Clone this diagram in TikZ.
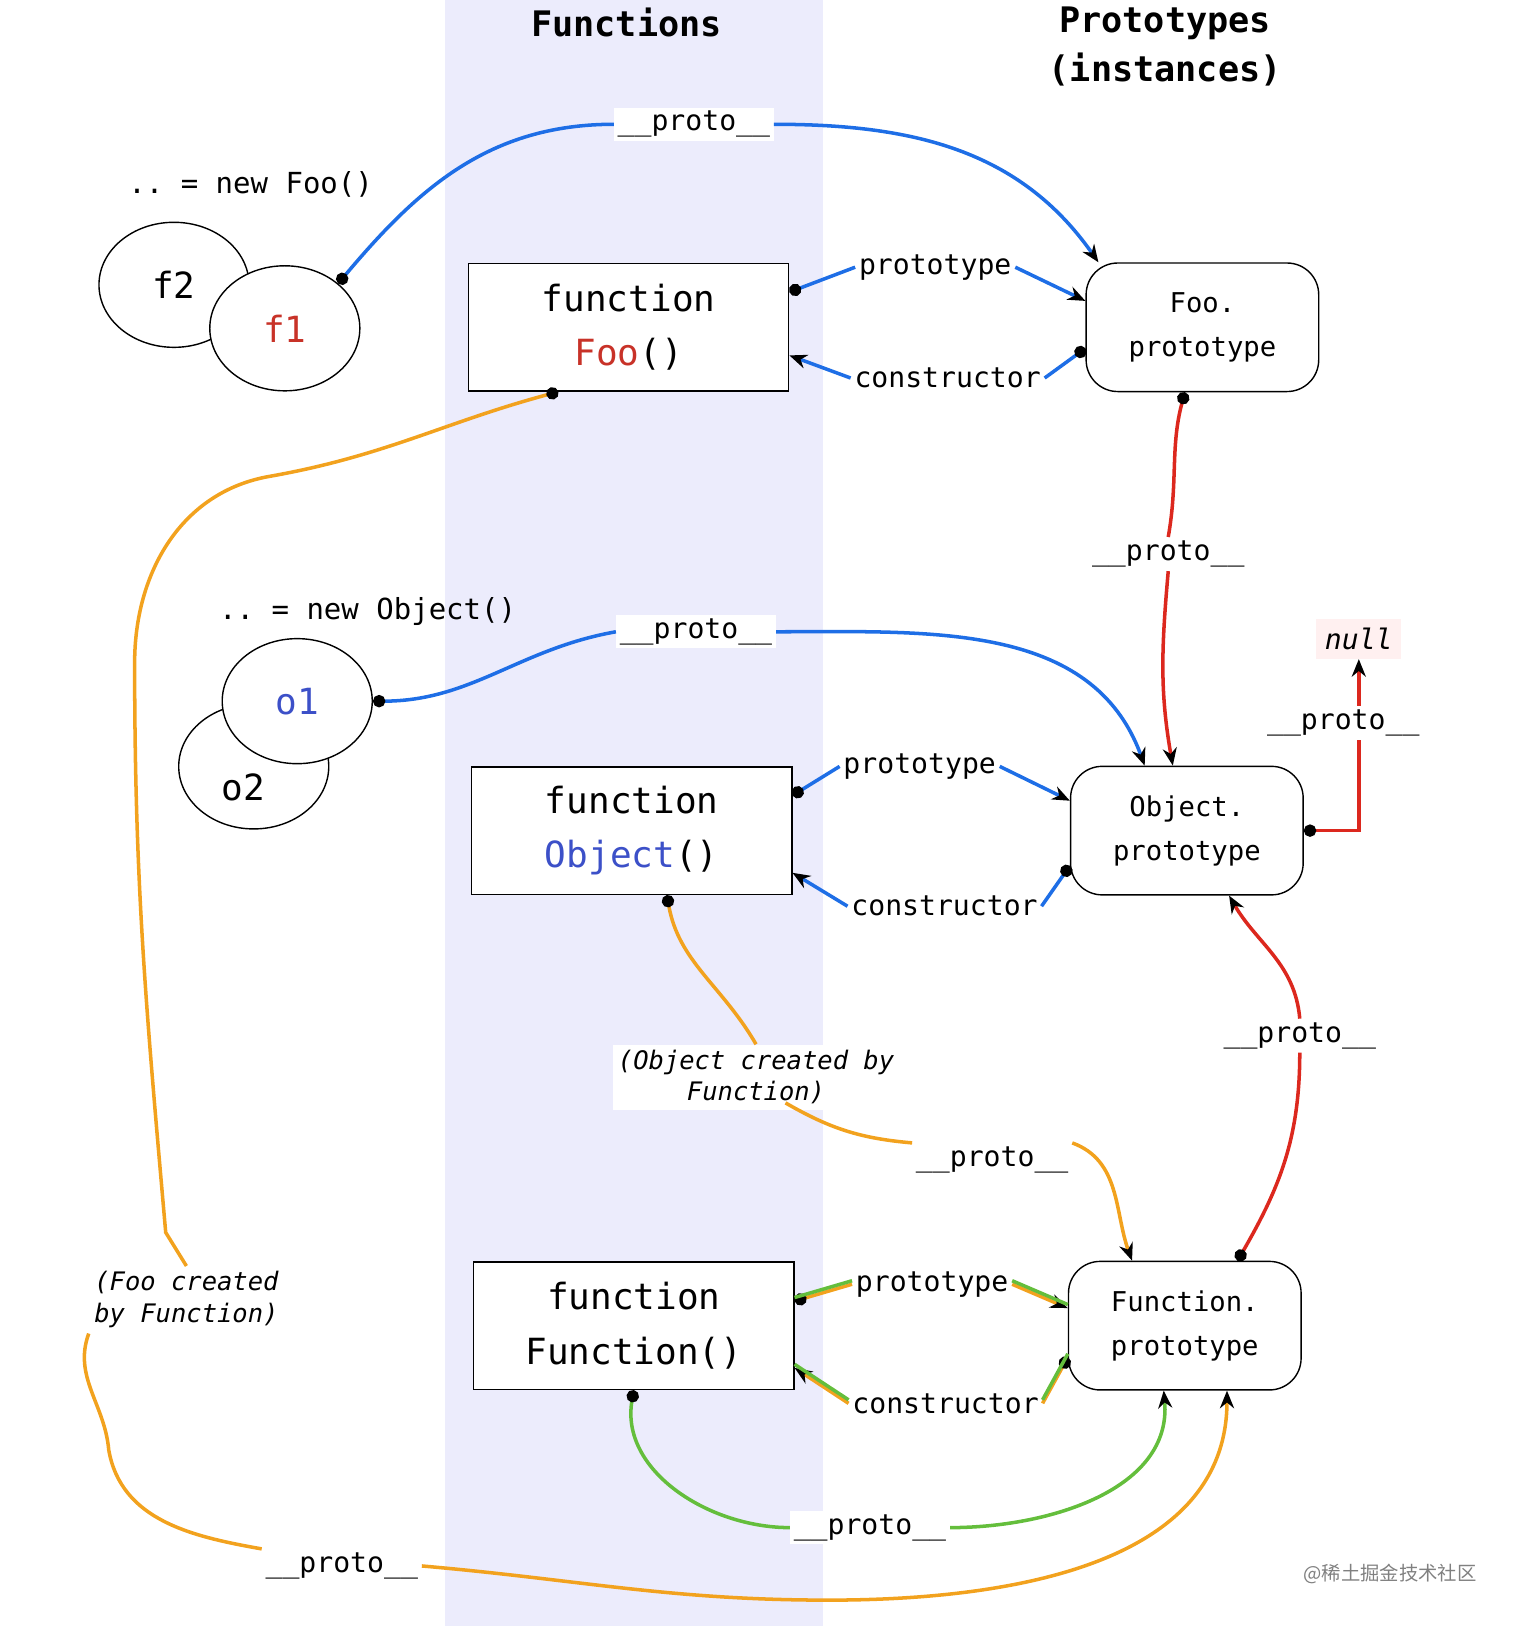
\documentclass[tikz,border=0pt]{standalone}
\usepackage{fontspec}
\setmonofont{DejaVu Sans Mono}
\newfontfamily\cjk{Noto Sans CJK SC}
\usetikzlibrary{arrows.meta,shapes.geometric}
\definecolor{band}{RGB}{236,236,252}
\definecolor{blu}{RGB}{30,110,230}
\definecolor{rd}{RGB}{220,40,30}
\definecolor{org}{RGB}{242,162,30}
\definecolor{grn}{RGB}{100,190,60}
\definecolor{fred}{RGB}{200,50,40}
\definecolor{fblue}{RGB}{60,80,200}
\begin{document}
\begin{tikzpicture}[x=0.0207cm,y=0.0207cm,>={Stealth[length=10pt,width=8pt,black]},
    every node/.style={font=\ttfamily},
    func/.style={draw,thick,fill=white,minimum width=6.4cm,minimum height=2.55cm,align=center,font=\ttfamily\fontsize{20.5}{31}\selectfont},
    proto/.style={draw,thick,fill=white,rounded corners=18pt,minimum width=4.65cm,minimum height=2.57cm,align=center,font=\ttfamily\fontsize{15.5}{25}\selectfont},
    inst/.style={draw,thick,fill=white,ellipse,minimum width=3cm,minimum height=2.5cm,font=\ttfamily\fontsize{20.5}{24}\selectfont},
    lab/.style={fill=white,inner sep=2pt,font=\ttfamily\fontsize{16}{18}\selectfont,align=center},
    note/.style={fill=white,inner sep=3pt,font=\ttfamily\itshape\fontsize{14.5}{18}\selectfont,align=center},
    link/.style={line width=2pt},
    dot/.style={{Circle[length=7pt,black]}-}]
\useasboundingbox (0,0) rectangle (1460,-1570);
\fill[band] (430,0) rectangle (795,-1570);
% headings
\node[font=\ttfamily\bfseries\fontsize{20}{24}\selectfont] (hfun) at (605,-22) {Functions};
\node[font=\ttfamily\bfseries\fontsize{20}{28}\selectfont,align=center] (hpro) at (1125,-45) {Prototypes\\(instances)};
% boxes
\node[func] (foo) at (607,-316) {function\\\textcolor{fred}{Foo}()};
\node[func] (obj) at (610,-802) {function\\\textcolor{fblue}{Object}()};
\node[func] (fun) at (612,-1280) {function\\Function()};
\node[proto] (fooP) at (1161,-316) {Foo.\\prototype};
\node[proto] (objP) at (1146,-802) {Object.\\prototype};
\node[proto] (funP) at (1144,-1280) {Function.\\prototype};
% instances
\node[inst] (f2) at (168,-275) {f2};
\node[inst] (f1) at (275,-317) {\textcolor{fred}{f1}};
\node[inst] (o2) at (245,-740) {};
\node[inst] (o1) at (287,-677) {\textcolor{fblue}{o1}};
\node[font=\ttfamily\fontsize{20.5}{24}\selectfont] (o2t) at (235,-760) {o2};
\node[font=\ttfamily\fontsize{16.5}{18}\selectfont] (newfoo) at (242,-178) {.. = new Foo()};
\node[font=\ttfamily\fontsize{16.5}{18}\selectfont] (newobj) at (355,-590) {.. = new Object()};
\node[fill=red!6,inner sep=5pt,font=\ttfamily\itshape\fontsize{16}{18}\selectfont] (null) at (1312,-617) {null};
% labels
\node[lab] (p1) at (670,-120) {\_\_proto\_\_};
\node[lab] (pt1) at (903,-258) {prototype};
\node[lab] (c1) at (915,-365) {constructor};
\node[lab] (p2) at (1128,-535) {\_\_proto\_\_};
\node[lab] (p3) at (672,-610) {\_\_proto\_\_};
\node[lab] (pt2) at (888,-740) {prototype};
\node[lab] (c2) at (912,-875) {constructor};
\node[lab] (p4) at (1297,-698) {\_\_proto\_\_};
\node[lab] (p5) at (1255,-1000) {\_\_proto\_\_};
\node[note] (cobj) at (730,-1040) {(Object created by\\ Function)};
\node[lab] (p6) at (958,-1120) {\_\_proto\_\_};
\node[lab] (pt3) at (900,-1240) {prototype};
\node[lab] (c3) at (913,-1355) {constructor};
\node[lab] (p7) at (840,-1475) {\_\_proto\_\_};
\node[note] (cfoo) at (180,-1255) {(Foo created\\by Function)};
\node[lab] (p8) at (330,-1512) {\_\_proto\_\_};
\node[text=gray,font=\cjk\fontsize{11}{13}\selectfont] (wm) at (1342,-1520) {@稀土掘金技术社区};
% Foo links
\draw[link,blu,dot] (f1.40) to[out=50,in=180] (p1.west);
\draw[link,blu,->] (p1.east) to[out=0,in=125] (fooP.148);
\draw[link,blu,dot] ([yshift=20pt]foo.east) -- (pt1.west);
\draw[link,blu,->] (pt1.east) -- ([yshift=15pt]fooP.west);
\draw[link,blu,dot] ([yshift=-12pt]fooP.west) -- (c1.east);
\draw[link,blu,->] (c1.west) -- ([yshift=-16pt]foo.east);
\draw[link,rd,dot] ([xshift=-10pt]fooP.south) to[out=-105,in=80] (p2.north);
\draw[link,rd,->] (p2.south) to[out=-95,in=100] ([xshift=-8pt]objP.north);
% Object links
\draw[link,blu,dot] (o1.east) to[out=0,in=190] (p3.west);
\draw[link,blu,->] (p3.east) to[out=0,in=110] (objP.123);
\draw[link,blu,dot] ([yshift=20pt]obj.east) -- (pt2.west);
\draw[link,blu,->] (pt2.east) -- ([yshift=17pt]objP.west);
\draw[link,blu,dot] ([yshift=-20pt]objP.west) -- (c2.east);
\draw[link,blu,->] (c2.west) -- ([yshift=-24pt]obj.east);
\draw[link,rd,dot] (objP.east) -| (null.south |- p4.south);
\draw[link,rd,->] (null.south |- p4.north) -- (null.south);
\draw[link,rd,dot] ([xshift=30pt]funP.north) to[out=60,in=-90] (p5.south);
\draw[link,rd,->] (p5.north) to[out=95,in=-60] ([xshift=24pt]objP.south);
% Function links
\draw[link,org,dot] ([xshift=20pt]obj.south) to[out=-80,in=120] (cobj.north);
\draw[link,org] ([xshift=-65pt,yshift=4pt]cobj.south east) to[out=-30,in=175] (p6.north west);
\draw[link,org,->] (p6.north east) to[out=-20,in=110] ([xshift=-30pt]funP.north);
\draw[link,org,dot] ([yshift=14pt]fun.east) -- (pt3.west);
\draw[link,grn] ([yshift=16pt]fun.east) -- ([yshift=2pt]pt3.west);
\draw[link,org,->] (pt3.east) -- ([yshift=10pt]funP.west);
\draw[link,grn] ([yshift=2pt]pt3.east) -- ([yshift=12pt]funP.west);
\draw[link,org,dot] ([yshift=-18pt]funP.west) -- (c3.east);
\draw[link,grn] ([yshift=-16pt]funP.west) -- ([yshift=2pt]c3.east);
\draw[link,org,->] (c3.west) -- ([yshift=-24pt]fun.east);
\draw[link,grn] ([yshift=2pt]c3.west) -- ([yshift=-22pt]fun.east);
\draw[link,grn,dot] (fun.south) to[out=-100,in=180] (p7.west);
\draw[link,grn,->] (p7.east) to[out=0,in=-85] ([xshift=-12pt]funP.south);
\draw[link,org,dot] ([xshift=-40pt]foo.south) to[out=195,in=10] (260,-460) to[out=190,in=90] (130,-640) to[out=-90,in=95] (160,-1190) to (cfoo.north);
\draw[link,org] (cfoo.south west) to[out=-110,in=95] (105,-1400) to[out=-80,in=170] (p8.north west);
\draw[link,org,->] (p8.east) to[out=-5,in=180] (800,-1545) to[out=0,in=-90] ([xshift=24pt]funP.south);
\end{tikzpicture}
\end{document}
